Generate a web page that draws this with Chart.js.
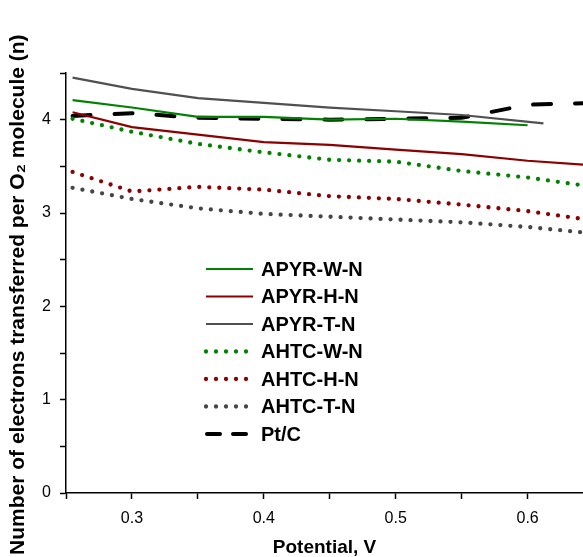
<!DOCTYPE html>
<html><head><meta charset="utf-8">
<script src="https://cdn.jsdelivr.net/npm/chart.js@4/dist/chart.umd.min.js"></script>
<style>html,body{margin:0;padding:0;background:#fff;}#wrap{width:583px;height:557px;}</style>
</head><body><div id="wrap"><canvas id="c" width="583" height="557"></canvas></div>
<script>
// Data
const potential  = [0.255, 0.30, 0.35, 0.40, 0.45, 0.50, 0.55, 0.60, 0.65];
const potentialT = [0.255, 0.30, 0.35, 0.40, 0.45, 0.50, 0.55, 0.612];
const apyrW = [4.21, 4.13, 4.03, 4.03, 4.00, 4.01, 3.98, 3.94, null];
const apyrH = [4.08, 3.92, 3.84, 3.76, 3.73, 3.68, 3.63, 3.56, 3.51];
const apyrT = [4.45, 4.33, 4.23, 4.18, 4.13, 4.09, 4.05, 3.96];
const ahtcW = [4.01, 3.87, 3.74, 3.65, 3.57, 3.55, 3.45, 3.38, 3.28];
const ahtcH = [3.44, 3.23, 3.28, 3.25, 3.18, 3.15, 3.09, 3.02, 2.92];
const ahtcT = [3.27, 3.15, 3.05, 2.99, 2.96, 2.93, 2.90, 2.85, 2.78];
const ptC   = [4.04, 4.07, 4.02, 4.01, 4.00, 4.01, 4.02, 4.16, 4.18];
const seriesNames = ['APYR-W-N', 'APYR-H-N', 'APYR-T-N', 'AHTC-W-N', 'AHTC-H-N', 'AHTC-T-N', 'Pt/C'];
const xTicks = [0.25, 0.30, 0.35, 0.40, 0.45, 0.50, 0.55, 0.60];
const yTicks = [0, 0.5, 1, 1.5, 2, 2.5, 3, 3.5, 4, 4.5];
const xTitle = 'Potential, V';
const yTitle = 'Number of electrons transferred per O\u2082 molecule (n)';

const FONT = "'Liberation Sans', Arial, sans-serif";
Chart.defaults.font.family = FONT;
Chart.defaults.color = '#000';

function pts(xs, ys) { return ys.map((y, i) => ({ x: xs[i], y: y })); }

const GREEN = '#008200', RED = '#8c0000', GRAY = '#505050', DGRAY = '#454545';
const solid = (c) => ({ borderColor: c, backgroundColor: c, borderWidth: 2.2, pointRadius: 0, tension: 0, fill: false });
const dotted = (c) => ({ borderColor: c, backgroundColor: c, borderWidth: 4.3, borderDash: [0, 10], borderCapStyle: 'round', pointRadius: 0, tension: 0, fill: false });

const datasets = [
  Object.assign({ label: seriesNames[0], data: pts(potential, apyrW) }, solid(GREEN)),
  Object.assign({ label: seriesNames[1], data: pts(potential, apyrH) }, solid(RED)),
  Object.assign({ label: seriesNames[2], data: pts(potentialT, apyrT) }, solid(GRAY)),
  Object.assign({ label: seriesNames[3], data: pts(potential, ahtcW) }, dotted(GREEN)),
  Object.assign({ label: seriesNames[4], data: pts(potential, ahtcH) }, dotted(RED)),
  Object.assign({ label: seriesNames[5], data: pts(potential, ahtcT) }, dotted(DGRAY)),
  Object.assign({ label: seriesNames[6], data: pts(potential, ptC), borderColor: '#000', backgroundColor: '#000', borderWidth: 4, borderDash: [18, 24], borderCapStyle: 'round', pointRadius: 0, tension: 0, fill: false })
];

const innerLegend = {
  id: 'innerLegend',
  afterDraw(chart) {
    const ctx = chart.ctx;
    ctx.save();
    chart.data.datasets.forEach((ds, i) => {
      const y = 269 + i * 27.5;
      ctx.beginPath();
      ctx.strokeStyle = ds.borderColor;
      ctx.lineWidth = ds.borderWidth;
      ctx.lineCap = ds.borderCapStyle || 'butt';
      if (i === 6) {
        ctx.setLineDash([13, 13]);
        ctx.moveTo(207, y);
        ctx.lineTo(249, y);
      } else {
        ctx.setLineDash(ds.borderDash || []);
        ctx.moveTo(206, y);
        ctx.lineTo(253, y);
      }
      ctx.stroke();
      ctx.setLineDash([]);
      ctx.fillStyle = '#000';
      ctx.font = 'bold 20px ' + FONT;
      ctx.textBaseline = 'middle';
      ctx.textAlign = 'left';
      ctx.fillText(ds.label, 261, y + 1);
    });
    ctx.restore();
  }
};

const isMajor = (v) => Math.abs(v * 10 - Math.round(v * 10)) < 1e-6;

new Chart(document.getElementById('c'), {
  type: 'line',
  data: { datasets: datasets },
  plugins: [innerLegend],
  options: {
    responsive: false,
    animation: false,
    devicePixelRatio: 1,
    layout: { padding: { top: 73, right: 0, left: 0, bottom: 0 } },
    plugins: { legend: { display: false }, tooltip: { enabled: false } },
    scales: {
      x: {
        type: 'linear', min: 0.25, max: 0.642,
        afterBuildTicks(s) { s.ticks = xTicks.map(v => ({ value: v })); },
        afterFit(s) { s.height = 64; },
        border: { display: true, color: '#000', width: 1.5 },
        grid: { display: true, drawOnChartArea: false, drawTicks: true, tickLength: 6, color: '#000', tickWidth: 1.5 },
        ticks: { font: { size: 16 }, padding: 10, maxRotation: 0, autoSkip: false,
          callback: (v) => isMajor(v) ? v.toFixed(1) : '' },
        title: { display: true, text: xTitle, font: { size: 19, weight: 'bold', lineHeight: 1.0 }, padding: { top: 0, bottom: 0 } }
      },
      y: {
        type: 'linear', min: 0, max: 4.5,
        afterBuildTicks(s) { s.ticks = yTicks.map(v => ({ value: v })); },
        afterFit(s) { s.width = 66; },
        border: { display: true, color: '#000', width: 1.5 },
        grid: { display: true, drawOnChartArea: false, drawTicks: true, tickLength: 6, color: '#000', tickWidth: 1.5 },
        ticks: { font: { size: 16 }, padding: 9, autoSkip: false,
          callback: (v) => Number.isInteger(v) ? String(v) : '' },
        title: { display: true, text: yTitle + '    ', font: { size: 21, weight: 'bold', lineHeight: 1.2 }, padding: { top: 6, bottom: 0 } }
      }
    }
  }
});
</script></body></html>
